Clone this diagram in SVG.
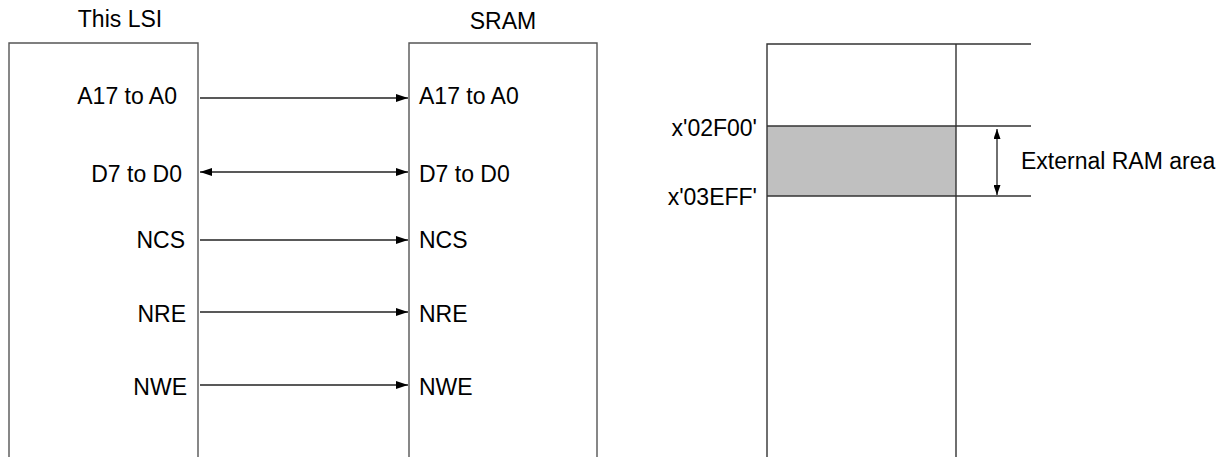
<svg xmlns="http://www.w3.org/2000/svg" width="1232" height="457" viewBox="0 0 1232 457">
<defs>
<style>
text{font-family:"Liberation Sans",Arial,sans-serif;font-size:23px;fill:#000}
.box{fill:#fff;stroke:#555;stroke-width:1.4}
.ln{stroke:#333;stroke-width:1.4;fill:none}
.cn{stroke:#222;stroke-width:1.3;fill:none}
.e{text-anchor:end}
.m{text-anchor:middle}
</style>
<marker id="ah" viewBox="0 0 12 8" refX="12" refY="4" markerWidth="12" markerHeight="8" markerUnits="userSpaceOnUse" orient="auto-start-reverse">
<path d="M0,0 L12,4 L0,8 Z" fill="#000"/>
</marker>
<marker id="ah2" viewBox="0 0 10 7" refX="10" refY="3.5" markerWidth="10" markerHeight="7" markerUnits="userSpaceOnUse" orient="auto-start-reverse">
<path d="M0,0 L10,3.5 L0,7 Z" fill="#000"/>
</marker>
</defs>
<g id="lsi">
<path class="box" d="M9,460 V43 H198 V460"/>
<text class="m" x="120" y="27">This LSI</text>
<text class="e" x="177" y="104">A17 to A0</text>
<text class="e" x="182" y="182">D7 to D0</text>
<text class="e" x="185" y="248">NCS</text>
<text class="e" x="186" y="322">NRE</text>
<text class="e" x="187" y="395">NWE</text>
</g>
<g id="sram">
<path class="box" d="M409,460 V43 H597 V460"/>
<text class="m" x="503" y="29">SRAM</text>
<text x="419" y="104">A17 to A0</text>
<text x="419" y="182">D7 to D0</text>
<text x="419" y="248">NCS</text>
<text x="419" y="322">NRE</text>
<text x="419" y="395">NWE</text>
</g>
<g id="memory-map">
<rect x="767" y="126" width="189" height="70" fill="#c0c0c0"/>
<path class="ln" d="M767,460 V44 H1031 M956,44 V460 M767,126 H1031 M767,196 H1031"/>
<text class="e" x="757" y="136">x'02F00'</text>
<text class="e" x="757" y="205">x'03EFF'</text>
<text x="1021" y="169">External RAM area</text>
</g>
<g id="connectors">
<line class="cn" x1="200" y1="98" x2="408" y2="98" marker-end="url(#ah)"/>
<line class="cn" x1="200" y1="172" x2="408" y2="172" marker-start="url(#ah)" marker-end="url(#ah)"/>
<line class="cn" x1="200" y1="240" x2="408" y2="240" marker-end="url(#ah)"/>
<line class="cn" x1="200" y1="312" x2="408" y2="312" marker-end="url(#ah)"/>
<line class="cn" x1="200" y1="385" x2="408" y2="385" marker-end="url(#ah)"/>
<line class="cn" x1="997" y1="129" x2="997" y2="195" marker-start="url(#ah2)" marker-end="url(#ah2)"/>
</g>
</svg>
